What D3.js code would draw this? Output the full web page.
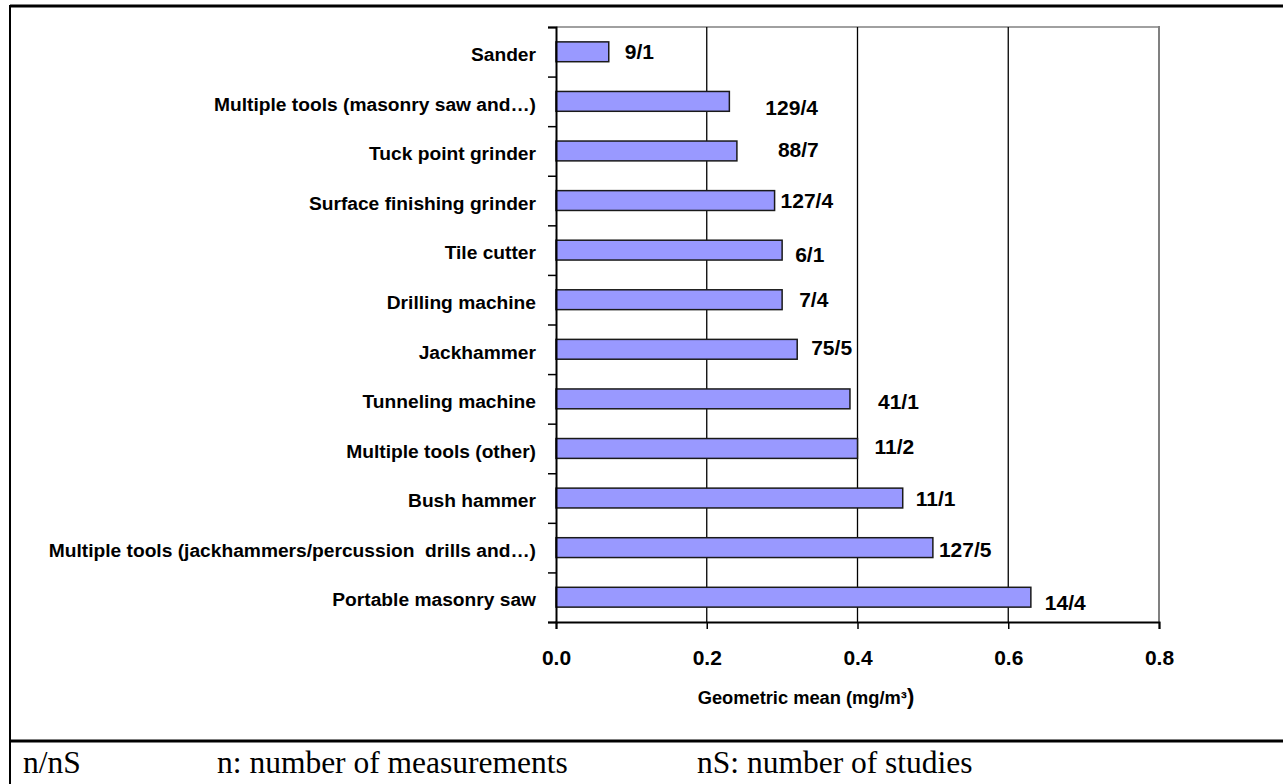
<!DOCTYPE html>
<html>
<head>
<meta charset="utf-8">
<script src="https://cdn.jsdelivr.net/npm/d3@7"></script>
<style>
  html, body { margin: 0; padding: 0; background: #fff; }
  svg { display: block; }
</style>
</head>
<body>
<svg id="chart" width="1283" height="784"></svg>
<script>
// ---- data ----
const categories = [
  "Sander",
  "Multiple tools (masonry saw and\u2026)",
  "Tuck point grinder",
  "Surface finishing grinder",
  "Tile cutter",
  "Drilling machine",
  "Jackhammer",
  "Tunneling machine",
  "Multiple tools (other)",
  "Bush hammer",
  "Multiple tools (jackhammers/percussion \u00a0drills and\u2026)",
  "Portable masonry saw"
];
const geometricMeans = [0.07, 0.23, 0.24, 0.29, 0.30, 0.30, 0.32, 0.39, 0.40, 0.46, 0.50, 0.63];
const nLabels = ["9/1", "129/4", "88/7", "127/4", "6/1", "7/4", "75/5", "41/1", "11/2", "11/1", "127/5", "14/4"];
const xTicks = [0.0, 0.2, 0.4, 0.6, 0.8];
const xTickLabels = ["0.0", "0.2", "0.4", "0.6", "0.8"];
const axisTitle = "Geometric mean (mg/m\u00b3";
const footnote = ["n/nS", "n: number of measurements", "nS: number of studies"];

// ---- layout (label nudges, pixels) ----
const labelDx = [16, 36, 41, 6, 13, 17, 14, 28, 17, 13, 6, 14];
const labelDy = [0, 6, -2, 0, 4, 0, -2, 3, -2, 0, 2, 5];

const svg = d3.select("#chart");
const pLeft = 556, pRight = 1159, pTop = 27, pBottom = 622;

const x = d3.scaleLinear().domain([0, 0.8]).range([pLeft, pRight]);
const y = d3.scaleBand().domain(categories).range([pTop, pBottom])
  .paddingInner(0.6).paddingOuter(0.3);
const yTicks = d3.scaleLinear().domain([0, categories.length]).range([pTop, pBottom]);

// outer frame
svg.append("line").attr("x1", 10).attr("x2", 1283).attr("y1", 6).attr("y2", 6)
  .attr("stroke", "#000").attr("stroke-width", 3);
svg.append("line").attr("x1", 10).attr("x2", 10).attr("y1", 5).attr("y2", 784)
  .attr("stroke", "#000").attr("stroke-width", 2);
svg.append("line").attr("x1", 10).attr("x2", 1283).attr("y1", 741).attr("y2", 741)
  .attr("stroke", "#000").attr("stroke-width", 3);

// plot frame (top & right gray)
svg.append("line").attr("x1", pLeft).attr("x2", pRight).attr("y1", pTop).attr("y2", pTop)
  .attr("stroke", "#a0a0a0").attr("stroke-width", 2);
svg.append("line").attr("x1", pRight).attr("x2", pRight).attr("y1", pTop - 1).attr("y2", pBottom)
  .attr("stroke", "#808080").attr("stroke-width", 2);

// gridlines
svg.append("g").selectAll("line").data(xTicks.filter(t => t > 0 && t < 0.8)).join("line")
  .attr("x1", d => x(d)).attr("x2", d => x(d))
  .attr("y1", pTop).attr("y2", pBottom)
  .attr("stroke", "#000").attr("stroke-width", 1.3);

// bars
svg.append("g").selectAll("rect").data(categories).join("rect")
  .attr("x", x(0))
  .attr("y", d => y(d))
  .attr("width", (d, i) => x(geometricMeans[i]) - x(0))
  .attr("height", y.bandwidth())
  .attr("fill", "#9999ff")
  .attr("stroke", "#1a1a1a")
  .attr("stroke-width", 1.5);

// y axis with ticks at category boundaries
const yAxisG = svg.append("g").attr("transform", `translate(${pLeft},0)`)
  .call(d3.axisLeft(yTicks).tickValues(d3.range(categories.length + 1))
    .tickSize(8).tickFormat(""));
yAxisG.select(".domain").attr("stroke", "#000").attr("stroke-width", 2);
yAxisG.selectAll(".tick line").attr("stroke", "#000").attr("stroke-width", 1.5);

// category labels
const catG = svg.append("g").attr("transform", `translate(${pLeft},0)`)
  .call(d3.axisLeft(y).tickSize(0).tickPadding(20));
catG.select(".domain").remove();
catG.selectAll("text")
  .attr("dy", "0.48em")
  .attr("font-family", "'Liberation Sans', Arial, sans-serif")
  .attr("font-weight", "bold")
  .attr("font-size", "19.2px")
  .attr("fill", "#000");

// x axis
const xAxisG = svg.append("g").attr("transform", `translate(0,${pBottom})`)
  .call(d3.axisBottom(x).tickValues(xTicks).tickSize(7).tickPadding(21)
    .tickFormat((d, i) => xTickLabels[i]));
xAxisG.select(".domain").attr("stroke", "#000").attr("stroke-width", 2);
xAxisG.selectAll(".tick line").attr("stroke", "#000").attr("stroke-width", 1.5);
xAxisG.selectAll("text")
  .attr("font-family", "'Liberation Sans', Arial, sans-serif")
  .attr("font-weight", "bold")
  .attr("font-size", "21px")
  .attr("fill", "#000");

// axis title
const title = svg.append("text")
  .attr("x", 806).attr("y", 704)
  .attr("text-anchor", "middle")
  .attr("font-family", "'Liberation Sans', Arial, sans-serif")
  .attr("font-weight", "bold")
  .attr("font-size", "18.3px")
  .attr("fill", "#000");
title.append("tspan").text(axisTitle);
title.append("tspan").attr("font-size", "22px").text(")");

// data labels
svg.append("g").selectAll("text").data(categories).join("text")
  .attr("x", (d, i) => x(geometricMeans[i]) + labelDx[i])
  .attr("y", (d, i) => y(d) + y.bandwidth() / 2 + labelDy[i])
  .attr("dy", "0.36em")
  .attr("font-family", "'Liberation Sans', Arial, sans-serif")
  .attr("font-weight", "bold")
  .attr("font-size", "21px")
  .attr("fill", "#000")
  .text((d, i) => nLabels[i]);

// footnote
const footX = [23, 217, 697];
svg.append("g").selectAll("text").data(footnote).join("text")
  .attr("x", (d, i) => footX[i])
  .attr("y", 773)
  .attr("font-family", "'Liberation Serif', 'Times New Roman', serif")
  .attr("font-size", "31.5px")
  .attr("fill", "#000")
  .text(d => d);
</script>
</body>
</html>
